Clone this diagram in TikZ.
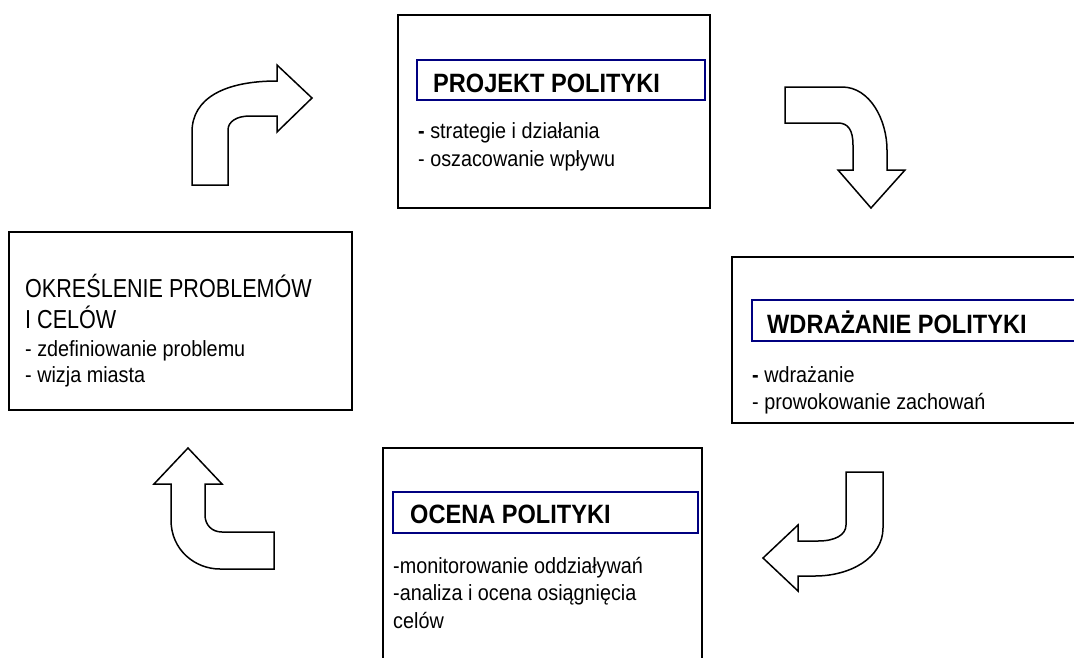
\documentclass[tikz,border=0pt]{standalone}
\usepackage{fontspec}
\setmainfont{Liberation Sans}
\newfontfamily\bigsans[FakeStretch=0.83]{Liberation Sans}
\newfontfamily\titlesans[FakeStretch=0.89]{Liberation Sans}
\newfontfamily\bodysans[FakeStretch=0.9]{Liberation Sans}
\definecolor{navy}{RGB}{0,0,128}
\begin{document}
\begin{tikzpicture}[x=1pt,y=-1pt,
  outerbox/.style={draw=black,line width=1.6pt,fill=white},
  innerbox/.style={draw=navy,line width=1.6pt},
  bent/.style={draw=black,line width=1.5pt,line join=miter,fill=white},
  titletext/.style={anchor=base west,inner sep=0pt,font=\titlesans\fontsize{26.5}{30}\selectfont\bfseries},
  bigtext/.style={anchor=base west,inner sep=0pt,font=\bigsans\fontsize{26}{30}\selectfont},
  bodytext/.style={anchor=base west,inner sep=0pt,font=\bodysans\fontsize{22}{26}\selectfont}]
\useasboundingbox (0,0) rectangle (1074,657);
\clip (0,0) rectangle (1074,657);

% Box 1: PROJEKT POLITYKI
\draw[outerbox] (398,15) rectangle (710,208);
\draw[innerbox] (417,60) rectangle (705,100);
\node[titletext] (t1) at (433,92) {PROJEKT POLITYKI};
\node[bodytext] (b1a) at (418,138) {\textbf{-} strategie i działania};
\node[bodytext] (b1b) at (418,166) {- oszacowanie wpływu};

% Box 2: WDRAZANIE POLITYKI
\draw[outerbox] (732,257) rectangle (1085,423);
\draw[innerbox] (752,300) rectangle (1085,341);
\node[titletext] (t2) at (767,333) {WDRAŻANIE POLITYKI};
\node[bodytext] (b2a) at (752,382) {\textbf{-} wdrażanie};
\node[bodytext] (b2b) at (752,409) {- prowokowanie zachowań};

% Box 3: OCENA POLITYKI
\draw[outerbox] (383,448) rectangle (702,670);
\draw[innerbox] (393,492) rectangle (698,533);
\node[titletext] (t3) at (410,523) {OCENA POLITYKI};
\node[bodytext] (b3a) at (393,573) {-monitorowanie oddziaływań};
\node[bodytext] (b3b) at (393,600) {-analiza i ocena osiągnięcia};
\node[bodytext] (b3c) at (393,628) {celów};

% Box 4: OKRESLENIE PROBLEMOW I CELOW
\draw[outerbox] (9,232) rectangle (352,410);
\node[bigtext] (t4a) at (25,297) {OKREŚLENIE PROBLEMÓW};
\node[bigtext] (t4b) at (25,328) {I CELÓW};
\node[bodytext] (b4a) at (25,356) {- zdefiniowanie problemu};
\node[bodytext] (b4b) at (25,382) {- wizja miasta};

% Arrow 1: up then right (top left)
\draw[bent] (192,185) -- (192,132)
  .. controls (192,98) and (225,81) .. (277,81)
  -- (277,65) -- (312,98) -- (277,132) -- (277,116)
  -- (250,116) .. controls (236,116) and (228,122) .. (228,130)
  -- (228,185) -- cycle;

% Arrow 2: right then down (top right)
\draw[bent] (785,87) -- (842,87)
  .. controls (870,87) and (887,120) .. (887,150)
  -- (887,170) -- (905,170) -- (871,208) -- (838,170) -- (853,170)
  -- (853,145) .. controls (853,130) and (848,123) .. (838,123)
  -- (785,123) -- cycle;

% Arrow 3: down then left (bottom right)
\draw[bent] (846,472) -- (883,472) -- (883,528)
  .. controls (883,558) and (850,576) .. (815,576)
  -- (798,576) -- (798,591) -- (763,558) -- (798,525) -- (798,541)
  -- (818,541) .. controls (835,541) and (846,535) .. (846,525)
  -- cycle;

% Arrow 4: left then up (bottom left)
\draw[bent] (274,532) -- (222,532)
  .. controls (212,532) and (205,525) .. (205,515)
  -- (205,484) -- (222,484) -- (188,448) -- (154,484) -- (171,484)
  -- (171,520) .. controls (171,550) and (195,569) .. (220,569)
  -- (274,569) -- cycle;
\end{tikzpicture}
\end{document}
